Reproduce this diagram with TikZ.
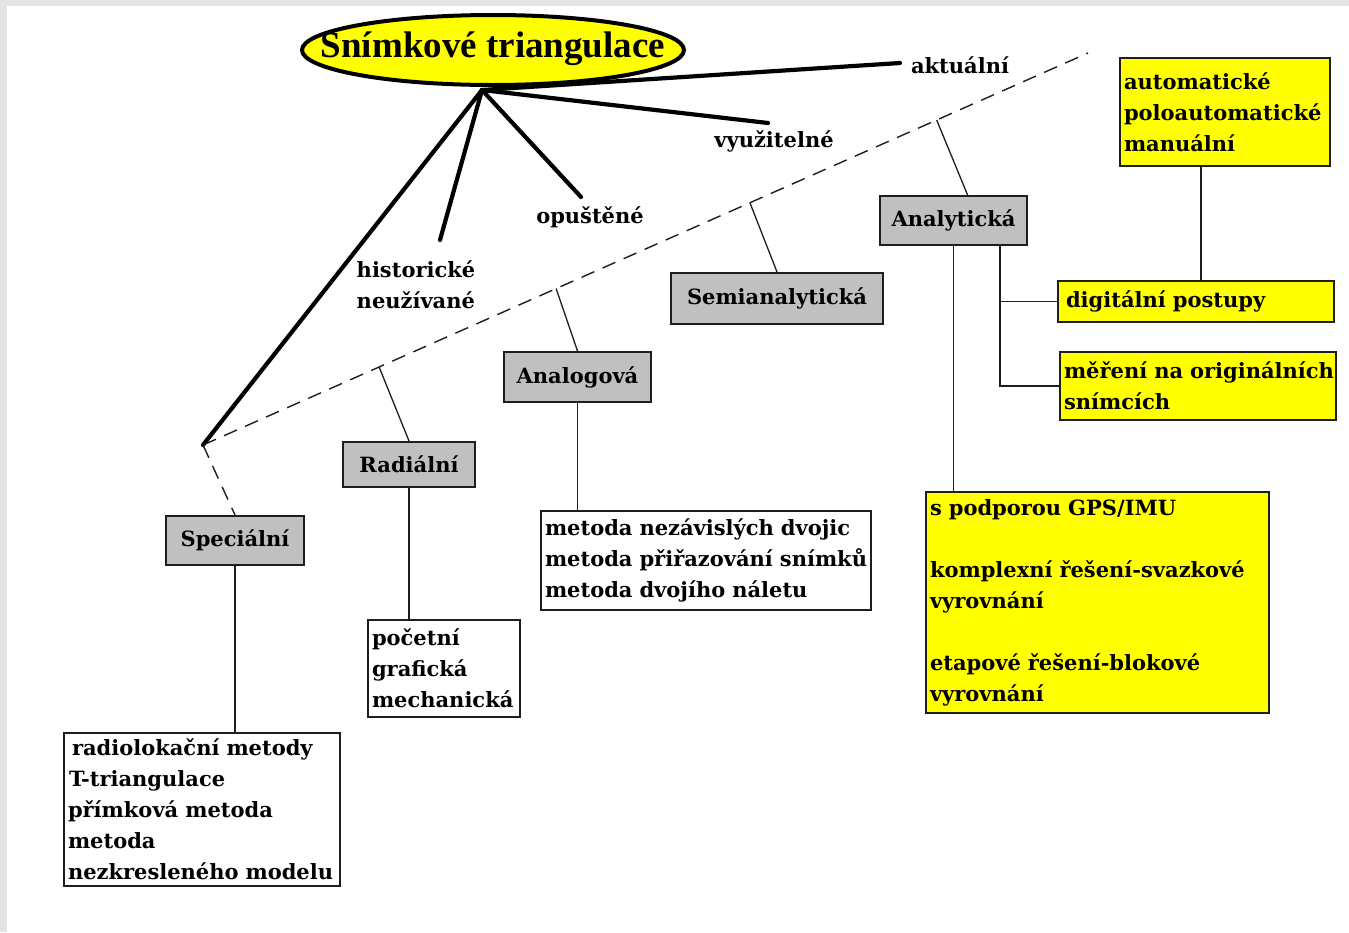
\documentclass[tikz,border=0pt]{standalone}
\usepackage{fontspec}
\setmainfont{DejaVu Serif}
\newfontfamily\titlefont{Liberation Serif}
\usetikzlibrary{shapes.geometric,calc}
\definecolor{boxgray}{RGB}{192,192,192}
\definecolor{boxyellow}{RGB}{255,255,0}
\definecolor{edge}{RGB}{30,30,30}
\definecolor{rim}{RGB}{228,228,228}
% one unbreakable line of a list
\newcommand\row[1]{\mbox{#1}}

\begin{document}
\begin{tikzpicture}[x=1pt,y=-1pt,
  txt/.style={font=\fontsize{21}{31}\selectfont\bfseries},
  stem/.style={line width=4.2pt, line cap=round, draw=black},
  link/.style={line width=1.6pt, draw=edge},
  dashline/.style={line width=1.4pt, dash pattern=on 14pt off 9pt},
  catbox/.style={txt, draw=edge, line width=2pt, fill=boxgray, inner sep=0pt},
  listbox/.style={txt, draw=edge, line width=2pt, fill=white, anchor=north west,
                  align=left, inner xsep=4pt, inner ysep=3pt},
  notebox/.style={listbox, fill=boxyellow},
  lbl/.style={txt, inner sep=0pt},
]
\useasboundingbox (0,0) rectangle (1349,932);
\fill[white] (0,0) rectangle (1349,932);
\fill[rim] (0,0) rectangle (1349,6);
\fill[rim] (0,0) rectangle (7,932);

% title
\node[ellipse, draw=black, line width=4pt, fill=boxyellow,
      minimum width=382pt, minimum height=70pt, inner sep=0pt] (title) at (493,50) {};
\node[inner sep=0pt] (titletext) at ($(title.center)+(0,-1)$)
  {\titlefont\fontsize{37}{42}\selectfont\bfseries Snímkové triangulace};

% labels of the stems
\node[lbl] (akt) at (960,65) {aktuální};
\node[lbl] (vyu) at (774,141) {využitelné};
\node[lbl] (opu) at (590,217) {opuštěné};
\node[lbl, align=left] (his) at (416,285) {historické\\neužívané};

% category boxes
\node[catbox, minimum width=138pt, minimum height=49pt] (spec) at (235,540.5) {Speciální};
\node[catbox, minimum width=132pt, minimum height=45pt] (rad) at (409,464.5) {Radiální};
\node[catbox, minimum width=147pt, minimum height=50pt] (anal) at (577.5,377) {Analogová};
\node[catbox, minimum width=212pt, minimum height=51pt] (semi) at (777,298.5) {Semianalytická};
\node[catbox, minimum width=147pt, minimum height=49pt] (ana) at (953.5,220.5) {Analytická};

% method lists
\node[listbox, text width=268pt, minimum height=153pt] (speclist) at (63,732)
  {\row{\hspace*{4pt}radiolokační metody}\\\row{\hspace*{1pt}T-triangulace}\\
   \row{přímková metoda}\\\row{metoda}\\\row{nezkresleného modelu}};
\node[listbox, text width=144pt, minimum height=97pt] (radlist) at (367,619)
  {\row{početní}\\\row{grafická}\\\row{mechanická}};
\node[listbox, text width=322pt, minimum height=99pt] (anallist) at (540,510)
  {\row{metoda nezávislých dvojic}\\\row{metoda přiřazování snímků}\\\row{metoda dvojího náletu}};

% notes on the analytical branch
\node[notebox, text width=202pt, minimum height=108pt] (auto) at (1119,57)
  {\row{automatické}\\\row{poloautomatické}\\\row{manuální}};
\node[notebox, text width=268pt, minimum height=41pt] (dig) at (1057,280)
  {\row{\hspace*{4pt}digitální postupy}};
\node[notebox, text width=268pt, minimum height=68pt] (mer) at (1059,351)
  {\row{měření na originálních}\\\row{snímcích}};
\node[notebox, text width=335pt, minimum height=221pt] (gps) at (925,491)
  {\row{s podporou GPS/IMU}\\[31pt]\row{komplexní řešení-svazkové}\\\row{vyrovnání}\\[31pt]
   \row{etapové řešení-blokové}\\\row{vyrovnání}};

% stems from the title
\coordinate (hub) at (482,90);
\coordinate (apex) at (203,445);
\coordinate (aktend) at (900,63);
\coordinate (vyuend) at (768,123);
\coordinate (opuend) at (581,197);
\coordinate (hisend) at (440,240);
\draw[stem] (hub) -- (aktend);
\draw[stem] (hub) -- (vyuend);
\draw[stem] (hub) -- (opuend);
\draw[stem] (hub) -- (hisend);
\draw[stem] (hub) -- (apex);

% dashed base line and its branches
\coordinate (dashend) at (1088,53);
\draw[link, dashline] (apex) -- (dashend);
\draw[link, dashline] (apex) -- (spec.north);
\coordinate (b1) at ($(apex)!0.199!(dashend)$);
\coordinate (b2) at ($(apex)!0.399!(dashend)$);
\coordinate (b3) at ($(apex)!0.618!(dashend)$);
\coordinate (b4) at ($(apex)!0.829!(dashend)$);
\coordinate (anatop) at (968,196);
\draw[link, line width=1.3pt] (b1) -- (rad.north);
\draw[link, line width=1.3pt] (b2) -- (anal.north);
\draw[link, line width=1.3pt] (b3) -- (semi.north);
\draw[link, line width=1.3pt] (b4) -- (anatop);

% vertical connectors
\draw[link] (spec.south) -- (speclist.north -| spec.south);
\draw[link] (rad.south) -- (radlist.north -| rad.south);
\draw[link] (anal.south) -- (anallist.north -| anal.south);
\draw[link] (ana.south) -- (ana.south |- gps.north);
\coordinate (fork) at (1000,245);
\draw[link] (fork) |- (mer.west);
\draw[link] (fork |- dig.west) -- (dig.west);
\coordinate (autolink) at (1201,0);
\draw[link] (auto.south -| autolink) -- (dig.north -| autolink);
\end{tikzpicture}
\end{document}
